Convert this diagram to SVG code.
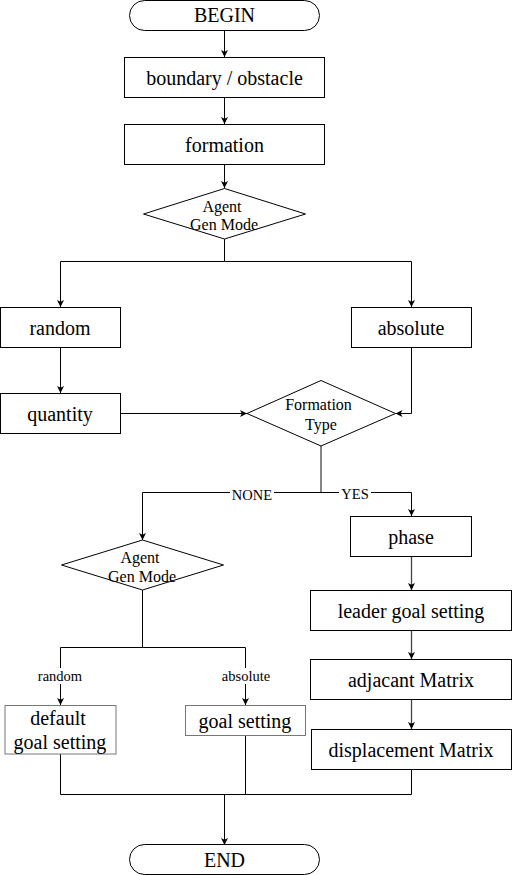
<svg xmlns="http://www.w3.org/2000/svg" width="512" height="875" viewBox="0 0 512 875">
<style>
.n{fill:#fff;stroke:#000;stroke-width:1}
.g{stroke:#777}
.t{font-family:"Liberation Serif",serif;font-size:20px;text-anchor:middle;dominant-baseline:central;fill:#000}
.s{font-family:"Liberation Serif",serif;font-size:16px;text-anchor:middle;dominant-baseline:central;fill:#000}
.l{font-family:"Liberation Serif",serif;font-size:14.5px;text-anchor:middle;dominant-baseline:central;fill:#000}
.c{fill:none;stroke:#000;stroke-width:1}
.d{stroke:#444;stroke-width:1.3}
</style>
<defs>
<marker id="a" markerWidth="8" markerHeight="8" refX="7" refY="4" orient="auto" markerUnits="userSpaceOnUse">
<path d="M0,0.5 L7,4 L0,7.5 L1.8,4 Z" fill="#000"/>
</marker>
</defs>
<g id="connectors">
<path class="c" d="M224.5,30.5 V57" marker-end="url(#a)"/>
<path class="c" d="M224.5,97.5 V124" marker-end="url(#a)"/>
<path class="c" d="M224.5,164.5 V188" marker-end="url(#a)"/>
<path class="c" d="M224.5,239 V261.5 H60.5 V307" marker-end="url(#a)"/>
<path class="c" d="M224.5,261.5 H411.5 V307" marker-end="url(#a)"/>
<path class="c" d="M60.5,347.5 V393" marker-end="url(#a)"/>
<path class="c" d="M120.5,413.5 H247" marker-end="url(#a)"/>
<path class="c" d="M411.5,347.5 V413.5 H395.5" marker-end="url(#a)"/>
<path class="c d" d="M321,446 V492.5"/>
<path class="c" d="M321,492.5 H142.5 V540" marker-end="url(#a)"/>
<path class="c" d="M321,492.5 H411.5 V516" marker-end="url(#a)"/>
<path class="c d" d="M411.5,556.5 V590" marker-end="url(#a)"/>
<path class="c d" d="M411.5,630.5 V659" marker-end="url(#a)"/>
<path class="c d" d="M411.5,699.5 V729" marker-end="url(#a)"/>
<path class="c" d="M142.5,590 V647.5 H60.5 V705" marker-end="url(#a)"/>
<path class="c" d="M142.5,647.5 H245.5 V705" marker-end="url(#a)"/>
<path class="c" d="M60.5,754 V794.5 H411.5 V769.5"/>
<path class="c" d="M245.5,735.5 V794.5"/>
<path class="c" d="M224.5,794.5 V845" marker-end="url(#a)"/>
<rect x="230" y="487" width="44" height="16" fill="#fff"/>
<text class="l" x="252" y="495">NONE</text>
<rect x="339" y="486" width="32" height="16" fill="#fff"/>
<text class="l" x="355" y="494">YES</text>
<rect x="35" y="668" width="50" height="16" fill="#fff"/>
<text class="l" x="60" y="676">random</text>
<rect x="219" y="668" width="54" height="16" fill="#fff"/>
<text class="l" x="246" y="676">absolute</text>
</g>
<g id="begin"><rect class="n" x="129.5" y="0.5" width="190" height="30" rx="15" ry="15"/><text class="t" x="224.5" y="15">BEGIN</text></g>
<g id="boundary"><rect class="n" x="124.5" y="57.5" width="200" height="40"/><text class="t" x="224.5" y="78">boundary / obstacle</text></g>
<g id="formation"><rect class="n" x="124.5" y="124.5" width="200" height="40"/><text class="t" x="224.5" y="145">formation</text></g>
<g id="agentgen1"><path class="n" d="M224.5,188.5 L305.5,214 L224.5,239 L143.5,214 Z"/><text class="s" x="222" y="206">Agent</text><text class="s" x="224" y="224">Gen Mode</text></g>
<g id="random"><rect class="n" x="0.5" y="307.5" width="120" height="40"/><text class="t" x="60" y="328">random</text></g>
<g id="absolute"><rect class="n" x="351.5" y="307.5" width="120" height="40"/><text class="t" x="411" y="328">absolute</text></g>
<g id="quantity"><rect class="n" x="0.5" y="393.5" width="120" height="40"/><text class="t" x="60" y="414">quantity</text></g>
<g id="formationtype"><path class="n" d="M321,380.5 L395.5,413.5 L321,446 L247,413.5 Z"/><text class="s" x="318.5" y="404">Formation</text><text class="s" x="321" y="424">Type</text></g>
<g id="phase"><rect class="n" x="350.5" y="516.5" width="121" height="40"/><text class="t" x="411" y="537">phase</text></g>
<g id="agentgen2"><path class="n" d="M142.5,540 L223.5,565 L142.5,590 L61.5,565 Z"/><text class="s" x="140" y="557">Agent</text><text class="s" x="142" y="576">Gen Mode</text></g>
<g id="leader"><rect class="n" x="310.5" y="590.5" width="201" height="40"/><text class="t" x="411" y="611">leader goal setting</text></g>
<g id="adjacant"><rect class="n" x="310.5" y="659.5" width="201" height="40"/><text class="t" x="411" y="680">adjacant Matrix</text></g>
<g id="displacement"><rect class="n" x="311.5" y="729.5" width="200" height="40"/><text class="t" x="411" y="750">displacement Matrix</text></g>
<g id="defaultgoal"><rect class="n g" x="5" y="705.5" width="111" height="48.5"/><text class="t" x="58" y="718">default</text><text class="t" x="60" y="742">goal setting</text></g>
<g id="goalsetting"><rect class="n g" x="185.5" y="705.5" width="120" height="30"/><text class="t" x="245" y="721">goal setting</text></g>
<g id="end"><rect class="n" x="129.5" y="844.5" width="190" height="30" rx="15" ry="15"/><text class="t" x="224.5" y="860">END</text></g>
</svg>
